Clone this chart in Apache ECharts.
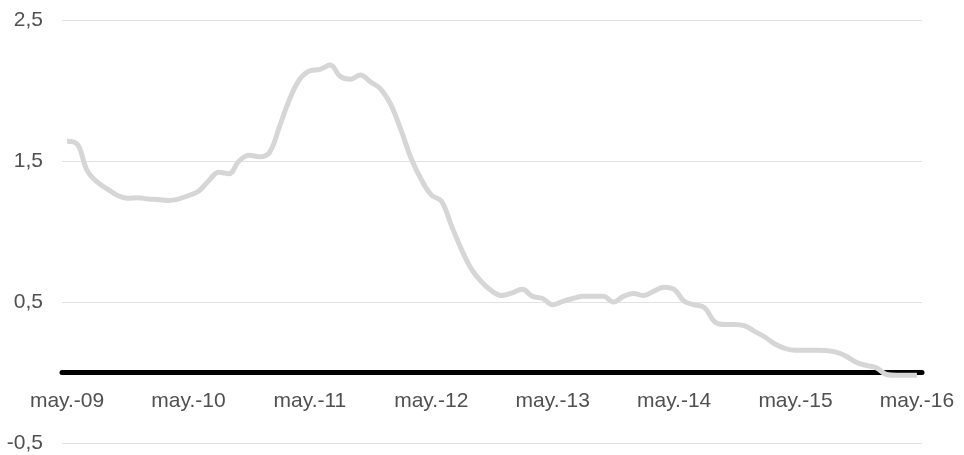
<!DOCTYPE html>
<html>
<head>
<meta charset="utf-8">
<script src="https://cdn.jsdelivr.net/npm/echarts@6/dist/echarts.min.js"></script>
<style>
    html, body { margin: 0; padding: 0; background: #fff; }
    #chart { width: 964px; height: 455px; }
</style>
</head>
<body>
<div id="chart"></div>
<script>
// meses de may.-09 a may.-16
var monthNames = ['ene.', 'feb.', 'mar.', 'abr.', 'may.', 'jun.', 'jul.', 'ago.', 'sep.', 'oct.', 'nov.', 'dic.'];
var years = ['09', '10', '11', '12', '13', '14', '15', '16'];

var values = [
    1.64, 1.62, 1.43, 1.35, 1.30, 1.255, 1.235, 1.24, 1.23, 1.227, 1.22, 1.23,
    1.255, 1.285, 1.36, 1.42, 1.41, 1.50, 1.54, 1.53, 1.56, 1.745, 1.94, 2.08,
    2.14, 2.15, 2.18, 2.10, 2.08, 2.11, 2.06, 2.01, 1.90, 1.72, 1.52, 1.37,
    1.26, 1.215, 1.04, 0.87, 0.73, 0.64, 0.577, 0.546, 0.565, 0.59, 0.54, 0.525,
    0.48, 0.505, 0.525, 0.54, 0.54, 0.54, 0.50, 0.54, 0.56, 0.546, 0.577, 0.605,
    0.59, 0.505, 0.48, 0.46, 0.36, 0.34, 0.34, 0.33, 0.29, 0.25, 0.20, 0.17,
    0.158, 0.158, 0.158, 0.156, 0.144, 0.116, 0.073, 0.05, 0.033, -0.014, -0.02, -0.02,
    -0.02
];

var yTicks = [-0.5, 0.5, 1.5, 2.5];

var categories = [];
for (var i = 0; i < values.length; i++) {
    var m = (4 + i) % 12;
    var y = Math.floor((4 + i) / 12);
    categories.push(monthNames[m] + '-' + years[y]);
}

var myChart = echarts.init(document.getElementById('chart'));

var textStyle = {
    color: '#505050',
    fontSize: 21,
    fontFamily: 'Liberation Sans, Arial, sans-serif'
};

var option = {
    animation: false,
    grid: {
        left: 62,
        right: 42,
        top: 20,
        bottom: 12,
        containLabel: false,
        outerBoundsMode: 'none'
    },
    xAxis: [
        {
            // linea negra en cero
            type: 'category',
            data: categories,
            boundaryGap: true,
            axisLine: {
                onZero: true,
                lineStyle: {color: '#000000', width: 5}
            },
            axisTick: {show: false},
            axisLabel: {show: false},
            splitLine: {show: false}
        },
        {
            // etiquetas de fechas
            type: 'category',
            data: categories,
            position: 'bottom',
            boundaryGap: true,
            axisLine: {show: false, onZero: false},
            axisTick: {show: false},
            axisLabel: Object.assign({
                interval: 11,
                margin: -52
            }, textStyle),
            splitLine: {show: false}
        }
    ],
    yAxis: {
        type: 'value',
        min: yTicks[0],
        max: yTicks[yTicks.length - 1],
        interval: 1,
        axisLine: {show: false},
        axisTick: {show: false},
        axisLabel: Object.assign({
            margin: 19,
            formatter: function (v) {
                return String(v).replace('.', ',');
            }
        }, textStyle),
        splitLine: {
            lineStyle: {color: '#e2e2e2', width: 1}
        }
    },
    series: [
        {
            type: 'line',
            data: values,
            smooth: 0.4,
            symbol: 'none',
            lineStyle: {color: '#d6d6d6', width: 5}
        }
    ]
};

myChart.setOption(option);
</script>
</body>
</html>
